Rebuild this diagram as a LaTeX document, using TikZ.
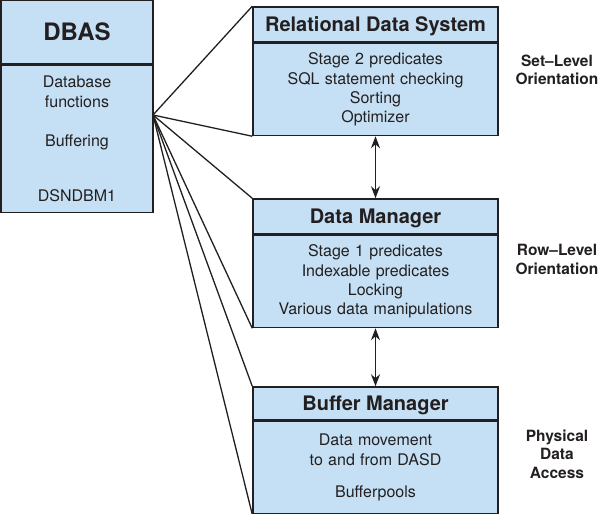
\documentclass[tikz,border=0pt]{standalone}
\usepackage{fontspec}
\setmainfont{TeX Gyre Heros}
\usepackage{xcolor}
\usetikzlibrary{positioning, arrows.meta}

\definecolor{boxblue}{RGB}{197,224,244}
\definecolor{inkgray}{RGB}{35,31,32}

\begin{document}
\begin{tikzpicture}[
    x=1pt, y=-1pt,
    head/.style={rectangle, draw=inkgray, fill=boxblue, line width=1.5pt, minimum width=245pt, minimum height=35pt, inner sep=0pt, text depth=0pt, font=\fontsize{20}{22}\selectfont\bfseries, text=inkgray},
    body/.style={rectangle, draw=inkgray, fill=boxblue, line width=1.5pt, minimum width=245pt, minimum height=92pt, inner sep=0pt, text width=240pt, align=center, font=\fontsize{16}{19.3}\selectfont, text=inkgray},
    level/.style={align=center, font=\fontsize{15.5}{18.5}\selectfont\bfseries, text=inkgray},
    link/.style={line width=1.3pt, draw=inkgray},
    arrow/.style={<->, line width=1.4pt, draw=inkgray, >={Stealth[length=12pt, width=9pt]}}
]
\useasboundingbox (0,0) rectangle (600,514);

% DBAS box
\node[head, minimum width=152pt, minimum height=64pt, font=\fontsize{24}{26}\selectfont\bfseries] (dbashead) at (77,32) {DBAS};
\node[body, minimum width=152pt, minimum height=147pt, text width=148pt, below=0pt of dbashead] (dbasbody) {Database\\functions\\[20pt]Buffering\\[36pt]DSNDBM1};

% Components
\node[head] (rdshead) at (375.5,24.5) {Relational Data System};
\node[body, below=0pt of rdshead] (rdsbody) {Stage 2 predicates\\SQL statement checking\\Sorting\\Optimizer};

\node[head] (dmhead) at (375.5,216.5) {Data Manager};
\node[body, below=0pt of dmhead] (dmbody) {Stage 1 predicates\\Indexable predicates\\Locking\\Various data manipulations};

\node[head, minimum height=33pt] (bmhead) at (375.5,403.5) {Buffer Manager};
\node[body, below=0pt of bmhead] (bmbody) {Data movement\\to and from DASD\\[13pt]Bufferpools};

% Levels
\node[level] (setlevel) at (557,70) {Set--Level\\Orientation};
\node[level] (rowlevel) at (557,259.5) {Row--Level\\Orientation};
\node[level] (physlevel) at (557,454) {Physical\\Data\\Access};

% Fan-out from DBAS
\coordinate (fan) at (153,115);
\foreach \b in {rds, dm, bm} {
    \draw[link] (fan) -- (\b head.north west);
    \draw[link] (fan) -- (\b body.south west);
}

% Arrows
\draw[arrow] (rdsbody.south) -- (dmhead.north);
\draw[arrow] (dmbody.south) -- (bmhead.north);

\end{tikzpicture}
\end{document}
